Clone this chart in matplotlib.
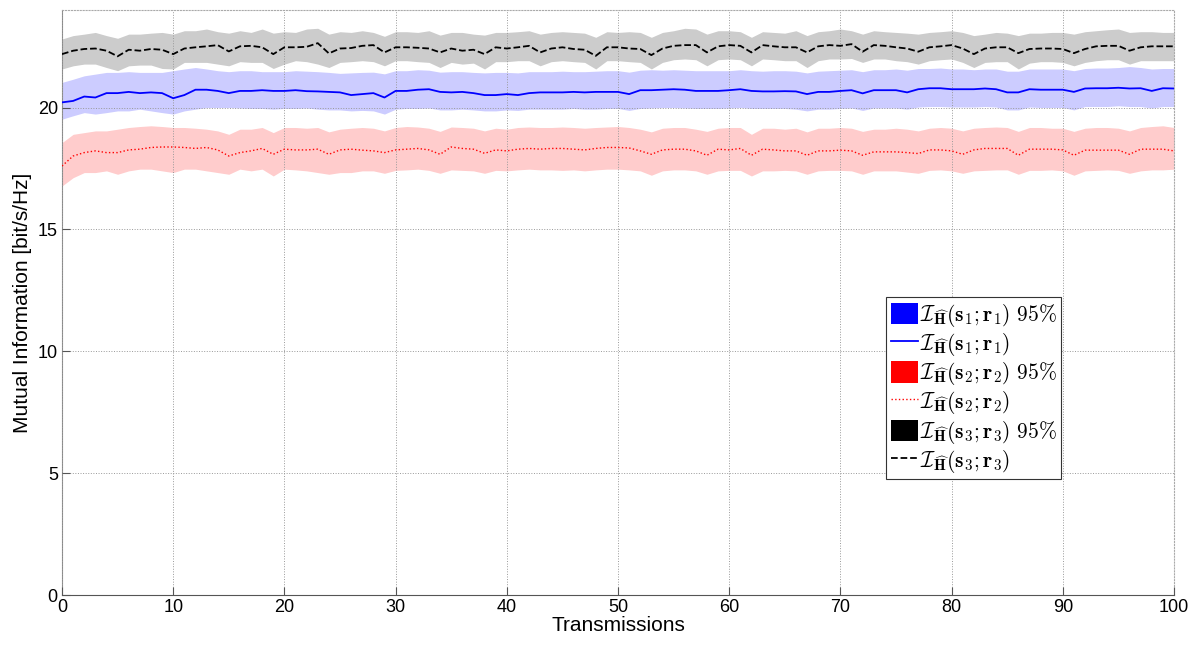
import matplotlib
matplotlib.use("Agg")
import matplotlib.pyplot as plt
from matplotlib.patches import Patch
from matplotlib.lines import Line2D
import numpy as np

plt.rcParams['font.family'] = ['Liberation Sans', 'DejaVu Sans']
plt.rcParams['mathtext.fontset'] = 'cm'

transmissions = list(range(0, 101))

# series 1 (blue): mean and 95% band
mi1_mean = [
    20.21, 20.27, 20.45, 20.41, 20.59, 20.59, 20.64, 20.59, 20.62, 20.59, 20.38, 20.51, 20.73, 20.73, 20.68, 20.59, 20.68, 20.68, 20.71, 20.68, 20.68,
    20.71, 20.67, 20.66, 20.64, 20.62, 20.51, 20.55, 20.59, 20.41, 20.68, 20.68, 20.73, 20.75, 20.64, 20.62, 20.64, 20.59, 20.51, 20.51, 20.55,
    20.51, 20.59, 20.62, 20.62, 20.62, 20.64, 20.62, 20.64, 20.64, 20.64, 20.55, 20.71, 20.71, 20.73, 20.75, 20.73, 20.68, 20.68, 20.68, 20.71,
    20.75, 20.68, 20.66, 20.66, 20.67, 20.66, 20.55, 20.64, 20.64, 20.68, 20.71, 20.58, 20.71, 20.71, 20.71, 20.62, 20.75, 20.79, 20.79, 20.75,
    20.75, 20.75, 20.78, 20.75, 20.62, 20.62, 20.75, 20.73, 20.73, 20.73, 20.64, 20.78, 20.79, 20.79, 20.81, 20.78, 20.79, 20.68, 20.79, 20.78,
]
mi1_hi = [
    21.03, 21.16, 21.30, 21.37, 21.44, 21.44, 21.47, 21.44, 21.44, 21.44, 21.51, 21.58, 21.64, 21.58, 21.51, 21.47, 21.51, 21.51, 21.47, 21.47, 21.47,
    21.51, 21.49, 21.47, 21.44, 21.40, 21.42, 21.44, 21.45, 21.38, 21.51, 21.51, 21.55, 21.53, 21.45, 21.47, 21.47, 21.44, 21.42, 21.44, 21.44,
    21.42, 21.47, 21.47, 21.47, 21.49, 21.47, 21.47, 21.49, 21.51, 21.51, 21.45, 21.53, 21.55, 21.53, 21.55, 21.53, 21.51, 21.51, 21.51, 21.51,
    21.55, 21.51, 21.49, 21.51, 21.51, 21.49, 21.42, 21.49, 21.51, 21.53, 21.55, 21.47, 21.55, 21.55, 21.58, 21.53, 21.60, 21.60, 21.62, 21.58,
    21.58, 21.55, 21.58, 21.58, 21.49, 21.49, 21.58, 21.58, 21.58, 21.58, 21.51, 21.60, 21.62, 21.62, 21.64, 21.68, 21.64, 21.58, 21.60, 21.60,
]
mi1_lo = [
    19.52, 19.66, 19.79, 19.73, 19.79, 19.86, 19.86, 19.93, 19.86, 19.79, 19.73, 19.86, 19.93, 20.00, 20.00, 20.00, 19.98, 19.96, 19.96, 19.93, 19.96,
    19.96, 19.98, 19.93, 19.90, 19.90, 19.86, 19.88, 19.86, 19.73, 19.93, 19.96, 19.96, 19.98, 19.90, 19.90, 19.93, 19.90, 19.86, 19.86, 19.90,
    19.88, 19.93, 19.93, 19.93, 19.93, 19.96, 19.93, 19.93, 19.96, 19.96, 19.88, 19.96, 19.98, 20.00, 20.00, 19.98, 19.96, 19.96, 19.96, 19.98,
    20.00, 19.96, 19.96, 19.96, 19.96, 19.93, 19.86, 19.93, 19.93, 19.96, 19.98, 19.88, 19.98, 19.98, 19.98, 19.93, 20.02, 20.04, 20.04, 20.02,
    20.02, 20.02, 20.04, 20.02, 19.90, 19.90, 20.02, 20.00, 20.00, 20.00, 19.90, 20.04, 20.04, 20.04, 20.07, 20.04, 20.04, 19.98, 20.04, 20.04,
]

# series 2 (red)
mi2_mean = [
    17.60, 18.01, 18.15, 18.22, 18.15, 18.15, 18.26, 18.29, 18.36, 18.38, 18.38, 18.36, 18.32, 18.36, 18.26, 18.01, 18.15, 18.22, 18.32, 18.08, 18.29,
    18.26, 18.26, 18.29, 18.08, 18.26, 18.29, 18.25, 18.22, 18.15, 18.26, 18.29, 18.32, 18.26, 18.08, 18.38, 18.32, 18.29, 18.12, 18.26, 18.22,
    18.29, 18.32, 18.29, 18.32, 18.32, 18.29, 18.26, 18.32, 18.36, 18.36, 18.34, 18.22, 18.08, 18.26, 18.29, 18.29, 18.22, 18.04, 18.29, 18.26,
    18.32, 18.04, 18.29, 18.26, 18.22, 18.22, 18.04, 18.22, 18.22, 18.25, 18.22, 18.04, 18.18, 18.18, 18.18, 18.15, 18.11, 18.26, 18.26, 18.22,
    18.08, 18.26, 18.32, 18.32, 18.32, 18.04, 18.29, 18.29, 18.29, 18.26, 18.04, 18.25, 18.25, 18.25, 18.25, 18.08, 18.29, 18.29, 18.29, 18.22,
]
mi2_hi = [
    18.56, 18.90, 18.97, 19.04, 19.04, 19.11, 19.18, 19.22, 19.25, 19.22, 19.18, 19.18, 19.15, 19.11, 19.04, 18.90, 19.11, 19.11, 19.18, 18.97, 19.18,
    19.18, 19.15, 19.18, 19.00, 19.11, 19.15, 19.18, 19.15, 19.04, 19.18, 19.22, 19.20, 19.15, 19.02, 19.20, 19.18, 19.15, 19.04, 19.15, 19.11,
    19.18, 19.20, 19.18, 19.18, 19.20, 19.18, 19.15, 19.18, 19.20, 19.22, 19.18, 19.11, 19.00, 19.15, 19.18, 19.18, 19.11, 19.02, 19.15, 19.18,
    19.18, 18.90, 19.15, 19.15, 19.11, 19.15, 19.00, 19.15, 19.15, 19.18, 19.15, 19.02, 19.11, 19.11, 19.15, 19.11, 19.04, 19.15, 19.18, 19.15,
    19.04, 19.15, 19.18, 19.20, 19.18, 19.02, 19.18, 19.18, 19.15, 19.15, 19.02, 19.15, 19.18, 19.18, 19.15, 19.04, 19.18, 19.22, 19.25, 19.18,
]
mi2_lo = [
    16.78, 17.12, 17.33, 17.33, 17.40, 17.26, 17.40, 17.47, 17.47, 17.40, 17.33, 17.47, 17.47, 17.40, 17.33, 17.26, 17.47, 17.40, 17.47, 17.19, 17.47,
    17.44, 17.40, 17.33, 17.26, 17.33, 17.33, 17.40, 17.40, 17.30, 17.42, 17.44, 17.47, 17.42, 17.30, 17.44, 17.42, 17.40, 17.30, 17.42, 17.40,
    17.44, 17.47, 17.44, 17.44, 17.42, 17.44, 17.40, 17.44, 17.47, 17.47, 17.44, 17.40, 17.22, 17.40, 17.44, 17.44, 17.40, 17.26, 17.40, 17.42,
    17.42, 17.19, 17.40, 17.40, 17.42, 17.40, 17.26, 17.40, 17.42, 17.42, 17.40, 17.26, 17.40, 17.40, 17.40, 17.35, 17.30, 17.42, 17.44, 17.40,
    17.30, 17.40, 17.42, 17.44, 17.44, 17.26, 17.42, 17.42, 17.44, 17.40, 17.22, 17.40, 17.42, 17.44, 17.42, 17.30, 17.40, 17.44, 17.44, 17.47,
]

# series 3 (black)
mi3_mean = [
    22.19, 22.33, 22.40, 22.42, 22.33, 22.10, 22.37, 22.33, 22.40, 22.37, 22.19, 22.42, 22.47, 22.51, 22.56, 22.30, 22.51, 22.53, 22.47, 22.19, 22.47,
    22.47, 22.49, 22.64, 22.22, 22.42, 22.44, 22.53, 22.56, 22.26, 22.47, 22.47, 22.45, 22.42, 22.26, 22.42, 22.33, 22.37, 22.19, 22.47, 22.42,
    22.47, 22.53, 22.26, 22.42, 22.47, 22.40, 22.37, 22.12, 22.47, 22.47, 22.42, 22.40, 22.15, 22.42, 22.53, 22.56, 22.56, 22.26, 22.51, 22.56,
    22.53, 22.26, 22.56, 22.51, 22.47, 22.47, 22.26, 22.51, 22.56, 22.53, 22.60, 22.29, 22.56, 22.53, 22.47, 22.42, 22.29, 22.47, 22.51, 22.56,
    22.42, 22.19, 22.42, 22.47, 22.47, 22.23, 22.40, 22.42, 22.42, 22.40, 22.23, 22.40, 22.51, 22.53, 22.53, 22.33, 22.47, 22.51, 22.51, 22.51,
]
mi3_hi = [
    22.81, 22.95, 23.01, 23.08, 22.95, 22.84, 23.01, 23.01, 23.05, 23.08, 23.01, 23.15, 23.15, 23.22, 23.11, 23.05, 23.15, 23.08, 23.22, 23.05, 23.11,
    23.08, 23.22, 23.25, 23.01, 23.11, 23.08, 23.15, 23.08, 22.92, 23.11, 23.11, 23.08, 23.15, 22.97, 23.08, 23.08, 23.01, 22.97, 23.08, 23.08,
    23.11, 23.15, 23.01, 23.08, 23.11, 23.08, 23.05, 22.88, 23.11, 23.08, 23.11, 23.08, 22.88, 23.08, 23.15, 23.25, 23.22, 23.01, 23.15, 23.15,
    23.11, 22.88, 23.11, 23.08, 23.05, 23.15, 22.95, 23.11, 23.15, 23.22, 23.15, 23.01, 23.15, 23.11, 23.08, 23.05, 23.01, 23.08, 23.11, 23.15,
    23.08, 22.95, 23.01, 23.08, 23.05, 22.95, 23.05, 23.05, 23.08, 23.08, 23.01, 23.11, 23.15, 23.19, 23.22, 23.08, 23.11, 23.11, 23.08, 23.08,
]
mi3_lo = [
    21.58, 21.71, 21.78, 21.78, 21.64, 21.51, 21.71, 21.74, 21.74, 21.60, 21.58, 21.85, 21.85, 21.85, 21.78, 21.71, 21.88, 21.85, 21.85, 21.60, 21.78,
    21.92, 21.88, 21.78, 21.64, 21.85, 21.88, 21.92, 21.88, 21.71, 21.92, 21.92, 21.88, 21.85, 21.64, 21.85, 21.78, 21.82, 21.58, 21.88, 21.88,
    21.92, 21.92, 21.71, 21.88, 21.92, 21.88, 21.85, 21.58, 21.92, 21.92, 21.88, 21.85, 21.58, 21.85, 21.96, 21.99, 21.96, 21.71, 21.96, 21.99,
    21.96, 21.71, 21.99, 21.96, 21.92, 21.92, 21.64, 21.92, 21.99, 21.99, 22.01, 21.85, 21.99, 21.99, 21.92, 21.88, 21.78, 21.92, 21.96, 21.99,
    21.85, 21.64, 21.85, 21.88, 21.88, 21.58, 21.82, 21.88, 21.88, 21.85, 21.71, 21.85, 21.92, 21.96, 21.96, 21.78, 21.92, 21.92, 21.92, 21.92,
]

labels = [
    r'$\mathcal{I}_{\widehat{\mathbf{H}}}(\mathbf{s}_1;\mathbf{r}_1)\ 95\%$',
    r'$\mathcal{I}_{\widehat{\mathbf{H}}}(\mathbf{s}_1;\mathbf{r}_1)$',
    r'$\mathcal{I}_{\widehat{\mathbf{H}}}(\mathbf{s}_2;\mathbf{r}_2)\ 95\%$',
    r'$\mathcal{I}_{\widehat{\mathbf{H}}}(\mathbf{s}_2;\mathbf{r}_2)$',
    r'$\mathcal{I}_{\widehat{\mathbf{H}}}(\mathbf{s}_3;\mathbf{r}_3)\ 95\%$',
    r'$\mathcal{I}_{\widehat{\mathbf{H}}}(\mathbf{s}_3;\mathbf{r}_3)$',
]

fig = plt.figure(figsize=(12.02, 6.46), dpi=100)
ax = fig.add_axes([62 / 1202, 1 - 595 / 646, 1112 / 1202, 585 / 646])

ax.fill_between(transmissions, mi1_lo, mi1_hi, color='blue', alpha=0.2, linewidth=0, zorder=1)
ax.fill_between(transmissions, mi2_lo, mi2_hi, color='red', alpha=0.2, linewidth=0, zorder=1)
ax.fill_between(transmissions, mi3_lo, mi3_hi, color='black', alpha=0.2, linewidth=0, zorder=1)

ax.plot(transmissions, mi1_mean, color='blue', linewidth=1.3, zorder=3)
ax.plot(transmissions, mi2_mean, color='red', linestyle=':', linewidth=1.0, zorder=3)
ax.plot(transmissions, mi3_mean, color='black', linestyle='--', linewidth=1.3, zorder=3)

ax.set_xlim(0, 100)
ax.set_ylim(0, 24)
ax.set_xticks(range(0, 101, 10))
ax.set_yticks(range(0, 21, 5))
ax.grid(True, linestyle=':', color='#999999', linewidth=0.7)
ax.set_axisbelow(False)

for s in ['top', 'right']:
    ax.spines[s].set_linestyle(':')
    ax.spines[s].set_color('#aaaaaa')
    ax.spines[s].set_linewidth(0.8)
ax.spines['left'].set_color('#8a8a8a')
ax.spines['bottom'].set_color('#555555')
ax.tick_params(direction='in', length=6, labelsize=13, color='#555555', pad=3)

ax.set_xlabel('Transmissions', fontsize=15, labelpad=0)
ax.set_ylabel('Mutual Information [bit/s/Hz]', fontsize=15, labelpad=4)

handles = [
    Patch(facecolor='blue', edgecolor='none'),
    Line2D([], [], color='blue', linewidth=1.3),
    Patch(facecolor='red', edgecolor='none'),
    Line2D([], [], color='red', linestyle=':', linewidth=1.0),
    Patch(facecolor='black', edgecolor='none'),
    Line2D([], [], color='black', linestyle='--', linewidth=1.3),
]
leg = ax.legend(handles, labels, loc='upper left', bbox_to_anchor=(0.741, 0.509),
                borderaxespad=0, fontsize=15.5, handlelength=1.25, handleheight=1.15,
                handletextpad=0.1, labelspacing=0.1, borderpad=0.22,
                fancybox=False, framealpha=1, edgecolor='#333333')
leg.get_frame().set_linewidth(0.8)

fig.savefig('out.png', dpi=100)
